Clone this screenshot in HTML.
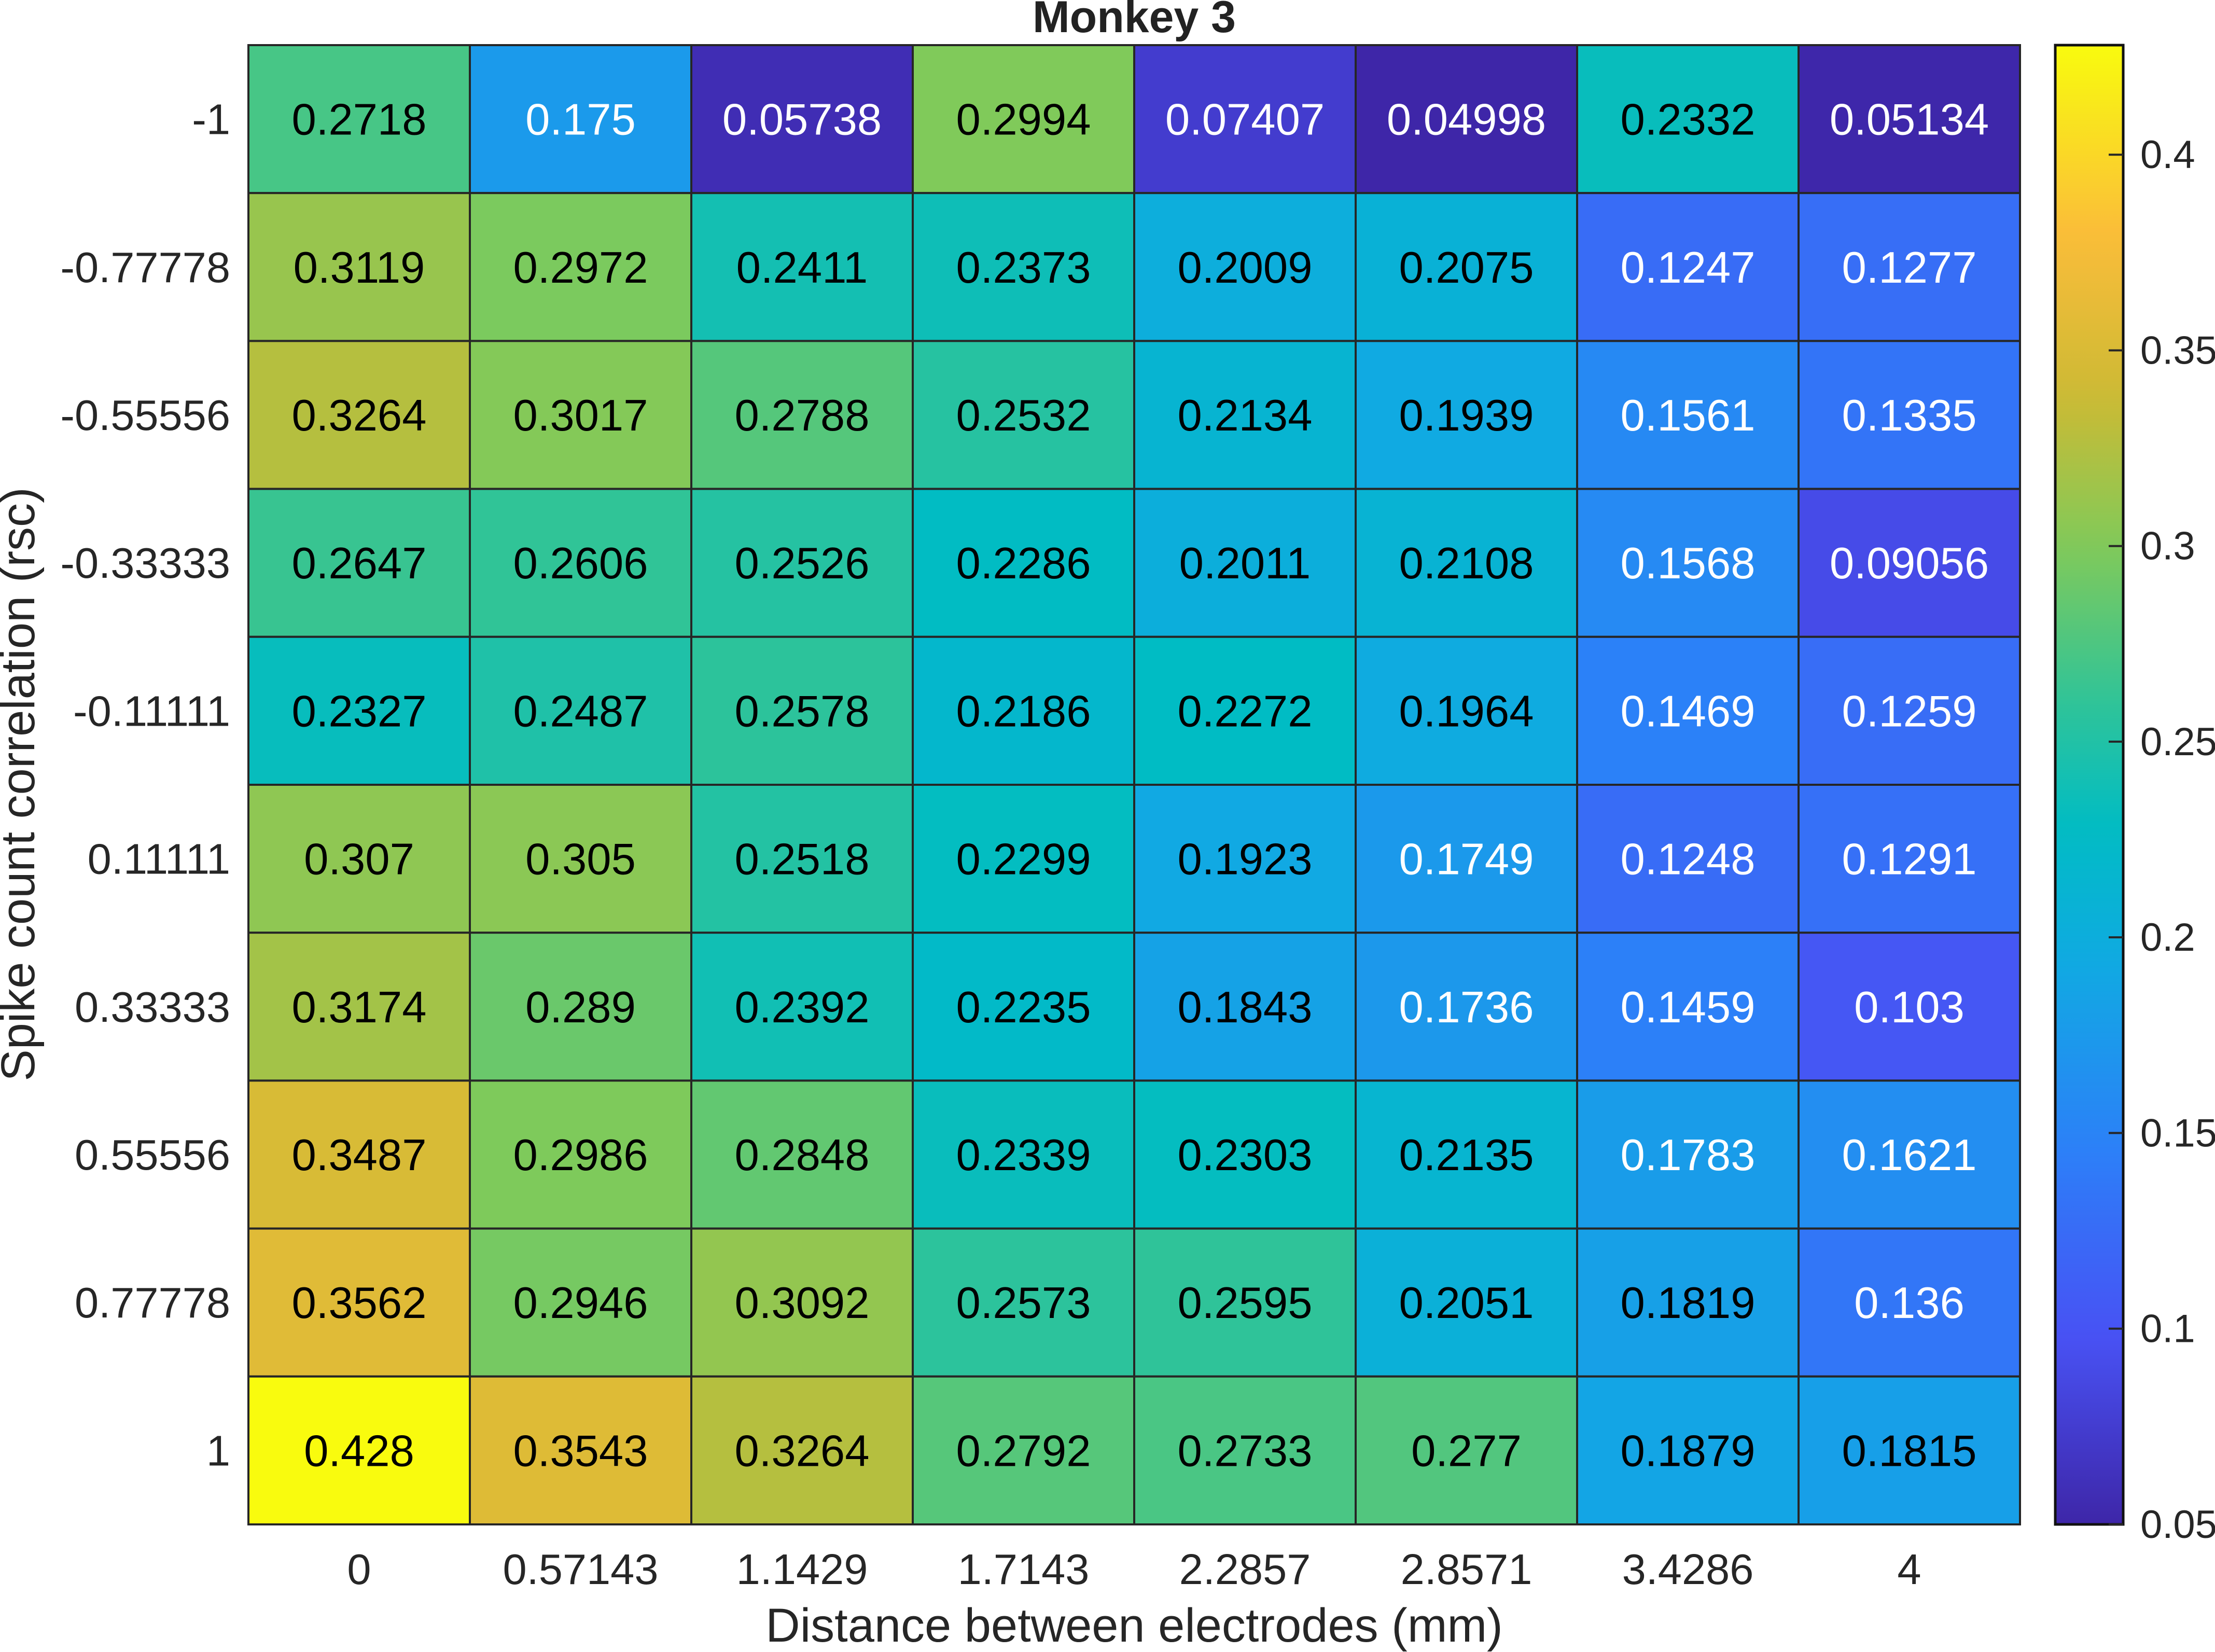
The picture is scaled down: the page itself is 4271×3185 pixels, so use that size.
<!DOCTYPE html>
<html><head><meta charset="utf-8"><style>
html,body{margin:0;padding:0;background:#fff;}
svg{display:block;font-family:"Liberation Sans",Arial,sans-serif;}
</style></head><body>
<svg id="chart" width="4271" height="3185" viewBox="0 0 4271 3185" xmlns="http://www.w3.org/2000/svg">
<defs><linearGradient id="cbgrad" x1="0" y1="1" x2="0" y2="0"></linearGradient></defs>
<text x="2187" y="62" font-size="86" font-weight="bold" text-anchor="middle" fill="#222">Monkey 3</text>
<text x="2187" y="3165" font-size="92" text-anchor="middle" fill="#262626">Distance between electrodes (mm)</text>
<text transform="translate(66,1512) rotate(-90)" font-size="92" text-anchor="middle" fill="#262626">Spike count correlation (rsc)</text>
<g id="cells"></g>
<g id="ticks"></g>
<g id="cbar"></g>
</svg>
<script>
const xLabels = ["0","0.57143","1.1429","1.7143","2.2857","2.8571","3.4286","4"];
const yLabels = ["-1","-0.77778","-0.55556","-0.33333","-0.11111","0.11111","0.33333","0.55556","0.77778","1"];
const row0 = ["0.2718","0.175","0.05738","0.2994","0.07407","0.04998","0.2332","0.05134"];
const row1 = ["0.3119","0.2972","0.2411","0.2373","0.2009","0.2075","0.1247","0.1277"];
const row2 = ["0.3264","0.3017","0.2788","0.2532","0.2134","0.1939","0.1561","0.1335"];
const row3 = ["0.2647","0.2606","0.2526","0.2286","0.2011","0.2108","0.1568","0.09056"];
const row4 = ["0.2327","0.2487","0.2578","0.2186","0.2272","0.1964","0.1469","0.1259"];
const row5 = ["0.307","0.305","0.2518","0.2299","0.1923","0.1749","0.1248","0.1291"];
const row6 = ["0.3174","0.289","0.2392","0.2235","0.1843","0.1736","0.1459","0.103"];
const row7 = ["0.3487","0.2986","0.2848","0.2339","0.2303","0.2135","0.1783","0.1621"];
const row8 = ["0.3562","0.2946","0.3092","0.2573","0.2595","0.2051","0.1819","0.136"];
const row9 = ["0.428","0.3543","0.3264","0.2792","0.2733","0.277","0.1879","0.1815"];
const rows = [row0,row1,row2,row3,row4,row5,row6,row7,row8,row9];
const cbTicks = ["0.05","0.1","0.15","0.2","0.25","0.3","0.35","0.4"];

const NS="http://www.w3.org/2000/svg";
const L=479,R=3895,T=87,B=2939;
const all=rows.flat().map(Number);
const vmin=Math.min(...all), vmax=Math.max(...all);
const cw=(R-L)/xLabels.length, ch=(B-T)/yLabels.length;
function xPos(i){return L+i*cw;}
function yPos(j){return T+j*ch;}
const CBL=3963,CBR=4094;
function cbY(v){return B-(v-vmin)/(vmax-vmin)*(B-T);}
const anchors=[[0,[62,38,168]],[0.127,[72,82,244]],[0.254,[44,128,248]],[0.38,[16,170,226]],[0.47,[0,188,196]],[0.56,[50,196,150]],[0.66,[128,202,90]],[0.762,[204,186,52]],[0.87,[250,188,58]],[1,[249,251,14]]];
function parula(t){t=Math.max(0,Math.min(1,t));for(let k=1;k<anchors.length;k++){if(t<=anchors[k][0]){const[a,ca]=anchors[k-1],[b,cb]=anchors[k];const f=(t-a)/(b-a);return `rgb(${ca.map((c,i)=>Math.round(c+(cb[i]-c)*f)).join(',')})`;}}return 'rgb(249,251,14)';}
function mk(tag,attrs,parent){const e=document.createElementNS(NS,tag);for(const k in attrs)e.setAttribute(k,attrs[k]);parent.appendChild(e);return e;}
const cells=document.getElementById('cells');
rows.forEach((row,j)=>row.forEach((s,i)=>{
  const v=Number(s);
  const r=mk('rect',{x:xPos(i),y:yPos(j),width:cw,height:ch,fill:parula((v-vmin)/(vmax-vmin)),stroke:'#262626','stroke-width':4},cells);
  
  
  const t=mk('text',{x:xPos(i)+cw/2,y:yPos(j)+ch/2+30,'font-size':85,'text-anchor':'middle',fill:v<0.18?'#fff':'#000'},cells);
  t.textContent=s;
  
  
}));
const ticks=document.getElementById('ticks');
xLabels.forEach((s,i)=>{const t=mk('text',{x:xPos(i)+cw/2,y:3054,'font-size':83,'text-anchor':'middle',fill:'#262626'},ticks);t.textContent=s;
  
  });
yLabels.forEach((s,j)=>{const t=mk('text',{x:444,y:yPos(j)+ch/2+29,'font-size':83,'text-anchor':'end',fill:'#262626'},ticks);t.textContent=s;
  
  });
const grad=document.getElementById('cbgrad');
for(let k=0;k<=40;k++){mk('stop',{offset:k/40,'stop-color':parula(k/40)},grad);}
const cbar=document.getElementById('cbar');
const cb=mk('rect',{x:CBL,y:T,width:CBR-CBL,height:B-T,fill:'url(#cbgrad)',stroke:'#111','stroke-width':5},cbar);


cbTicks.forEach(s=>{const y=cbY(Number(s));
  const l=mk('line',{x1:CBR-28,x2:CBR,y1:y,y2:y,stroke:'#262626','stroke-width':4},cbar);
  
  
  const t=mk('text',{x:4127,y:y+26,'font-size':76,fill:'#262626'},cbar);t.textContent=s;
  
  });
</script>
</body></html>
